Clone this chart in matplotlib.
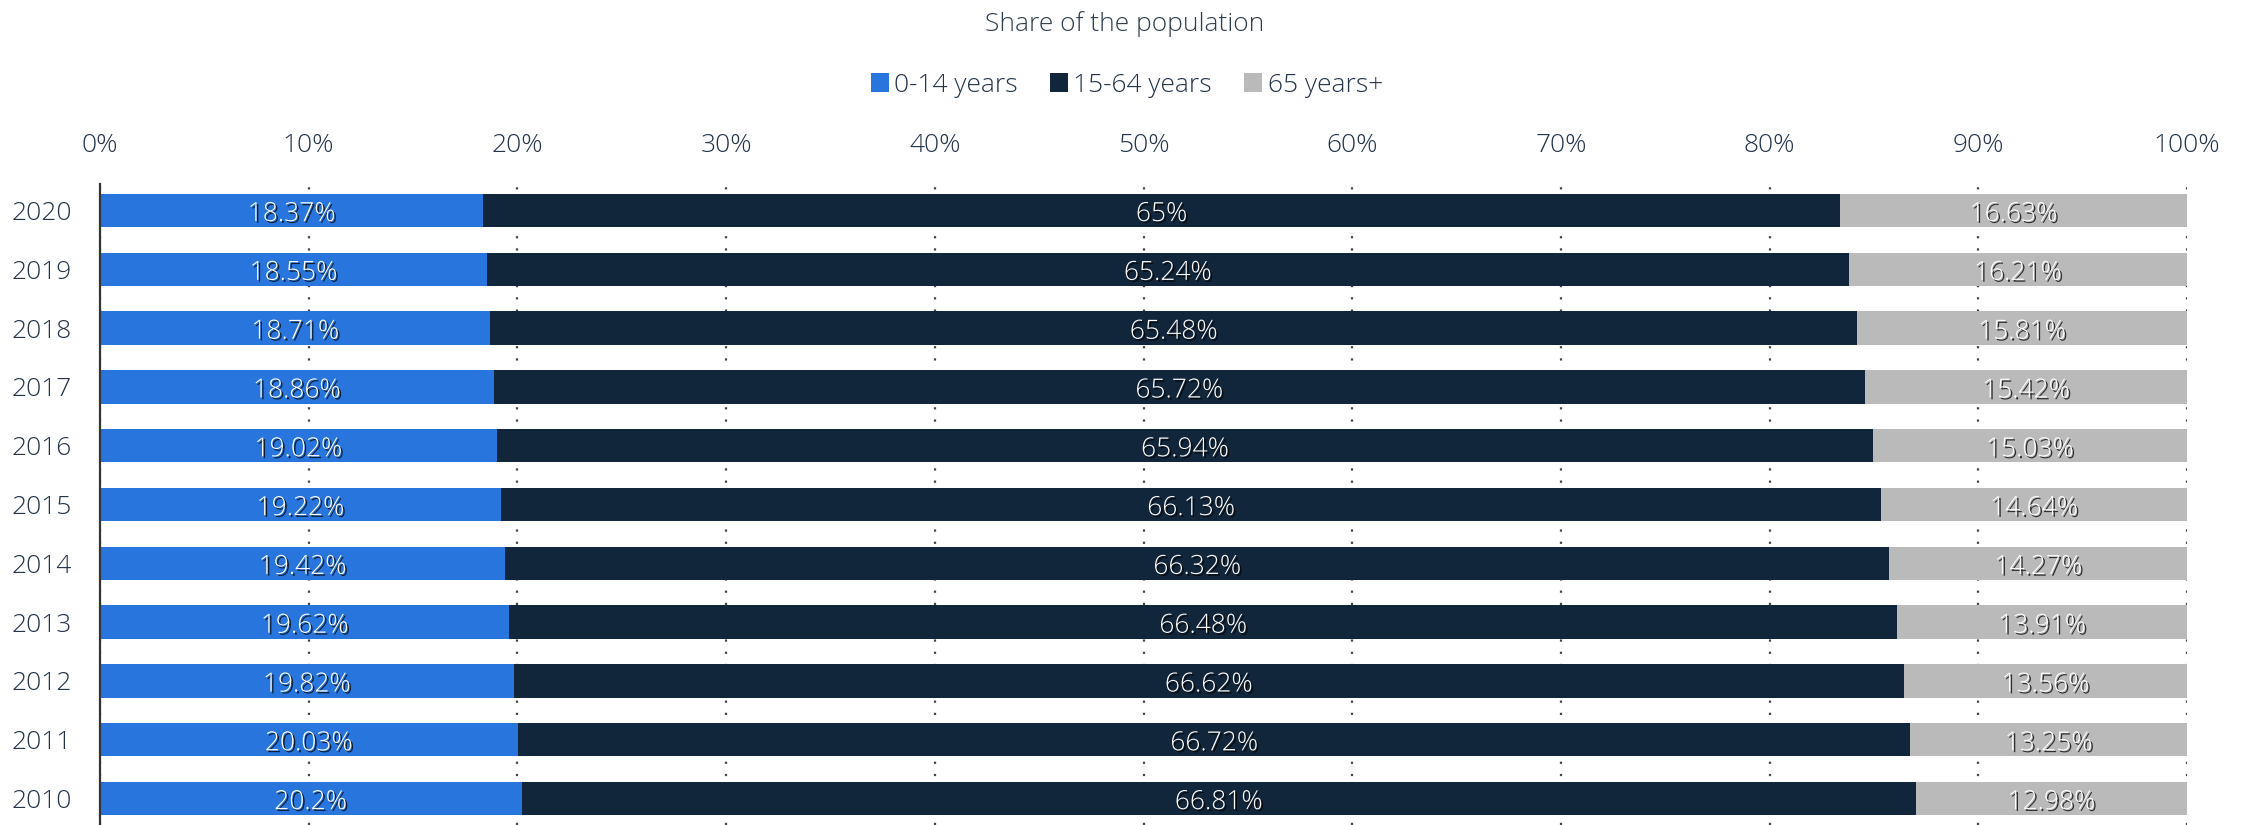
import numpy as np
import matplotlib.pyplot as plt
import matplotlib.patheffects as pe

plt.rcParams['font.family'] = ['Open Sans', 'DejaVu Sans']
plt.rcParams['font.weight'] = 'light'

years = ['2020', '2019', '2018', '2017', '2016', '2015', '2014', '2013', '2012', '2011', '2010']
young = [18.37, 18.55, 18.71, 18.86, 19.02, 19.22, 19.42, 19.62, 19.82, 20.03, 20.2]
working = [65, 65.24, 65.48, 65.72, 65.94, 66.13, 66.32, 66.48, 66.62, 66.72, 66.81]
old = [16.63, 16.21, 15.81, 15.42, 15.03, 14.64, 14.27, 13.91, 13.56, 13.25, 12.98]
series_names = ['0-14 years', '15-64 years', '65 years+']
colors = ['#2876dd', '#12263b', '#bababa']
xticks = [0, 10, 20, 30, 40, 50, 60, 70, 80, 90, 100]

fig = plt.figure(figsize=(22.49, 8.25), dpi=100, facecolor='white')
ax = fig.add_axes([100 / 2249, 0.0, (2187 - 100) / 2249, (825 - 184) / 825])

y = np.arange(len(years))[::-1]  # 2020 on top
left = np.zeros(len(years))
shadow = [pe.SimplePatchShadow(offset=(1.3, -1.3), shadow_rgbFace='black', alpha=0.75), pe.Normal()]
handles = []
for vals, name, c in zip([young, working, old], series_names, colors):
    vals = np.array(vals)
    b = ax.barh(y, vals, left=left, height=0.57, color=c, label=name, zorder=3)
    handles.append(b)
    for yi, l, v in zip(y, left, vals):
        ax.text(l + v / 2, yi - 0.07, f'{v:g}%', ha='center', va='center', color='white',
                fontsize=19, zorder=5, path_effects=shadow)
    left = left + vals

ax.set_xlim(0, 100)
ax.set_ylim(-0.45, 10.45)
ax.set_xticks(xticks)
ax.set_xticklabels([f'{t}%' for t in xticks])
ax.xaxis.tick_top()
ax.tick_params(axis='x', length=0, pad=19, labelsize=19, labelcolor='#23344a')
ax.set_yticks(y)
ax.set_yticklabels(years)
ax.tick_params(axis='y', length=0, pad=20, labelsize=19, labelcolor='#23344a')

ax.grid(axis='x', color='#444444', linestyle=(0, (1, 4.5)), linewidth=1.6, zorder=0)
ax.set_axisbelow(True)
for s in ['top', 'right', 'bottom']:
    ax.spines[s].set_visible(False)
ax.spines['left'].set_color('#333333')
ax.spines['left'].set_linewidth(1.6)
ax.spines['left'].set_zorder(6)
ax.set_facecolor('white')

fig.text(0.5, 1 - 24 / 825, 'Share of the population', ha='center', va='center',
         fontsize=19, color='#2f3e4e')
fig.legend(handles=handles, labels=series_names, loc='center', bbox_to_anchor=(0.501, 1 - 85 / 825),
           ncol=3, frameon=False, fontsize=19, handlelength=0.7, handleheight=0.7,
           handletextpad=0.2, columnspacing=1.2, labelcolor='#23344a')

fig.savefig('out.png', dpi=100, facecolor='white')
